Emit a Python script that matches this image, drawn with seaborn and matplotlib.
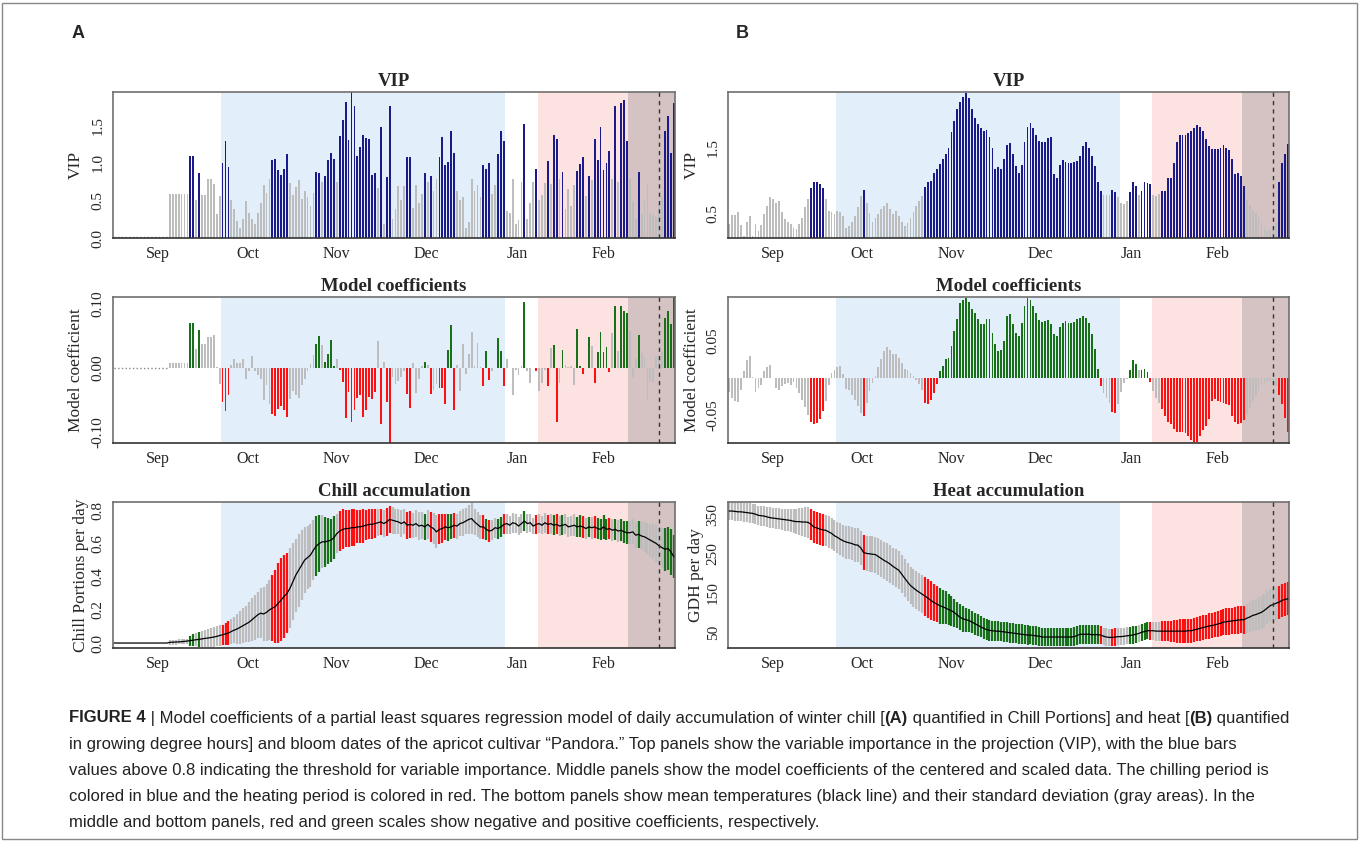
import numpy as np
import pandas as pd
import matplotlib
matplotlib.use('Agg')
import matplotlib.pyplot as plt
import seaborn as sns
from matplotlib.patches import Rectangle

# ---- calendar: day 0 = Sep 1, last day = Mar 11 ----
N_DAYS = 192
days = np.arange(N_DAYS)
month_labels = ['Sep', 'Oct', 'Nov', 'Dec', 'Jan', 'Feb']
month_starts = [0, 30, 61, 91, 122, 153, 181]
chill_period = (36.5, 133.5)
heat_period = (144.5, 175.5)
late_period = (175.5, 191.6)
bloom_day = 186
vip_threshold = 0.8

# ---- panel A: chill (Chill Portions) ----
a_vip = [0.0] * 19 + [
    0.59, 0.59, 0.59, 0.59, 0.59, 0.59, 0.59,
    1.09, 1.09, 0.50, 0.86,
    0.57, 0.57, 0.79, 0.79, 0.72, 0.32, 0.56, 0.99, 1.29, 0.94,
    0.50, 0.38, 0.22, 0.13, 0.25, 0.49, 0.33, 0.25, 0.18, 0.33,
    0.46, 0.71, 0.60, 0.78, 1.03, 1.05, 0.91, 0.84, 0.92, 1.12,
    0.73, 0.57, 0.68, 0.77, 0.52, 0.63, 0.54, 0.42, 0.60, 0.88,
    0.87, 0.75, 0.82, 1.03, 1.13, 1.05, 0.75, 1.35, 1.57, 1.81,
    1.30, 1.94, 1.76, 1.09, 1.21, 1.37, 1.33, 1.31, 0.84, 0.87,
    0.67, 1.48, 0.19, 0.81, 1.76, 0.25, 0.38, 0.69, 0.51, 0.69,
    1.08, 1.07, 0.40,
    0.70, 0.46, 0.58, 0.87, 0.75, 0.82, 0.63, 0.79, 1.08, 1.34,
    0.97, 1.01, 1.42, 1.13, 0.63, 0.51, 0.55, 0.13, 0.21, 0.79,
    0.63, 0.70, 0.55, 0.97, 0.92, 1.00, 0.58, 0.71, 1.11, 1.42,
    1.29, 0.36, 0.33, 0.79, 0.19, 0.24, 0.75, 1.51, 0.25, 0.47,
    0.74, 0.92, 0.50, 0.57, 0.73, 1.02, 0.72, 1.37, 1.32, 0.79,
    0.88, 0.38, 0.65, 0.42, 0.70, 0.89, 0.98, 1.07, 0.56, 0.83,
    0.77, 1.32, 1.04, 1.48, 0.90, 1.00, 1.16, 0.79, 1.76, 0.74,
    1.79, 1.83, 1.29, 0.79, 0.49, 0.25, 0.88, 0.32, 0.50, 0.73,
    0.33, 0.30, 0.28, 0.45, 0.54, 1.42, 1.62, 1.13, 1.80,
]

a_coef = [0.0] * 19 + [
    0.007, 0.007, 0.007, 0.007, 0.007, 0.007, 0.007,
    0.069, 0.069, 0.029, 0.059,
    0.037, 0.037, 0.048, 0.048, 0.051, 0.001, -0.025, -0.054, -0.067, -0.043,
    0.005, 0.013, 0.007, 0.007, 0.014, -0.017, -0.005, 0.018, -0.005, -0.011,
    -0.018, -0.050, -0.027, -0.056, -0.072, -0.075, -0.064, -0.059, -0.066, -0.077,
    -0.048, -0.036, -0.043, -0.047, -0.027, -0.017, -0.005, 0.006, 0.020, 0.037,
    0.049, 0.036, 0.009, 0.021, 0.043, 0.002, 0.014, -0.003, -0.022, -0.078,
    -0.037, -0.084, -0.066, -0.047, -0.043, -0.076, -0.065, -0.045, -0.048, -0.037,
    0.041, -0.088, 0.009, -0.053, -0.117, -0.014, -0.025, -0.021, -0.014, -0.005,
    -0.041, -0.062, 0.008,
    -0.039, -0.017, 0.002, 0.009, 0.004, -0.041, -0.035, -0.026, -0.032, -0.032,
    -0.056, 0.027, 0.066, -0.066, 0.005, -0.036, 0.037, -0.009, 0.021, 0.055,
    0.002, 0.038, 0.001, -0.028, 0.026, -0.019, -0.005, -0.001, 0.046, 0.026,
    -0.029, 0.013, -0.001, -0.042, -0.003, -0.012, 0.003, 0.103, -0.005, -0.024,
    -0.001, -0.005, -0.036, -0.024, -0.004, -0.029, 0.031, 0.036, -0.084, -0.024,
    0.027, 0.004, 0.001, 0.002, -0.027, 0.060, 0.003, -0.009, 0.000, 0.048,
    0.034, -0.023, 0.025, 0.055, 0.025, 0.032, -0.007, 0.054, 0.096, 0.026,
    0.096, 0.089, 0.085, 0.057, -0.014, 0.013, 0.051, 0.023, 0.016, -0.050,
    -0.022, -0.022, 0.018, 0.018, 0.024, 0.077, 0.088, 0.068, 0.112,
]

a_mean = [0.0] * 19 + [
    0.004,
    0.005, 0.006, 0.007, 0.008, 0.010, 0.012, 0.015, 0.017, 0.020, 0.022,
    0.025, 0.028, 0.030, 0.033, 0.036, 0.040, 0.045, 0.050, 0.055, 0.060,
    0.070, 0.078, 0.085, 0.095, 0.105, 0.115, 0.125, 0.140, 0.155, 0.170,
    0.180, 0.175, 0.185, 0.200, 0.210, 0.220, 0.240, 0.260, 0.280, 0.300,
    0.330, 0.370, 0.410, 0.440, 0.470, 0.500, 0.515, 0.530, 0.560, 0.585,
    0.600, 0.610, 0.610, 0.615, 0.620, 0.635, 0.660, 0.675, 0.685, 0.690,
    0.690, 0.695, 0.695, 0.700, 0.700, 0.705, 0.710, 0.715, 0.715, 0.720,
    0.725, 0.730, 0.720, 0.730, 0.745, 0.740, 0.735, 0.730, 0.720, 0.730,
    0.710, 0.715, 0.710, 0.720, 0.705, 0.710, 0.700, 0.715, 0.700, 0.690,
    0.670, 0.685, 0.690, 0.700, 0.695, 0.700, 0.710, 0.705, 0.720, 0.725,
    0.735, 0.745, 0.750, 0.730, 0.715, 0.700, 0.700, 0.685, 0.675, 0.680,
    0.695, 0.690, 0.700, 0.715, 0.720, 0.710, 0.725, 0.720, 0.705, 0.720,
    0.735, 0.720, 0.725, 0.705, 0.715, 0.720, 0.710, 0.725, 0.715, 0.720,
    0.710, 0.715, 0.705, 0.710, 0.715, 0.700, 0.705, 0.710, 0.700, 0.705,
    0.700, 0.690, 0.700, 0.695, 0.700, 0.690, 0.685, 0.700, 0.685, 0.690,
    0.680, 0.685, 0.675, 0.680, 0.670, 0.665, 0.665, 0.670, 0.650, 0.655,
    0.645, 0.640, 0.630, 0.620, 0.610, 0.600, 0.585, 0.575, 0.565, 0.570,
    0.550, 0.520,
]

a_sd = [0.0] * 19 + [
    0.015,
    0.015, 0.015, 0.015, 0.015, 0.015, 0.015, 0.030, 0.035, 0.040, 0.045,
    0.050, 0.050, 0.055, 0.055, 0.060, 0.060, 0.065, 0.060, 0.065, 0.070,
    0.075, 0.080, 0.090, 0.100, 0.105, 0.110, 0.120, 0.130, 0.135, 0.140,
    0.150, 0.160, 0.170, 0.180, 0.200, 0.220, 0.240, 0.250, 0.250, 0.240,
    0.240, 0.230, 0.220, 0.220, 0.210, 0.200, 0.190, 0.190, 0.180, 0.180,
    0.170, 0.160, 0.150, 0.140, 0.130, 0.130, 0.120, 0.120, 0.120, 0.110,
    0.110, 0.110, 0.110, 0.100, 0.100, 0.100, 0.090, 0.090, 0.090, 0.085,
    0.080, 0.080, 0.080, 0.085, 0.080, 0.080, 0.075, 0.075, 0.080, 0.075,
    0.080, 0.080, 0.075, 0.080, 0.085, 0.080, 0.080, 0.085, 0.090, 0.095,
    0.100, 0.090, 0.085, 0.080, 0.080, 0.075, 0.075, 0.075, 0.075, 0.080,
    0.080, 0.085, 0.095, 0.080, 0.075, 0.070, 0.070, 0.065, 0.065, 0.060,
    0.060, 0.060, 0.060, 0.060, 0.060, 0.055, 0.060, 0.055, 0.055, 0.055,
    0.060, 0.055, 0.055, 0.050, 0.055, 0.055, 0.055, 0.060, 0.055, 0.060,
    0.060, 0.060, 0.060, 0.060, 0.060, 0.060, 0.060, 0.065, 0.060, 0.065,
    0.065, 0.065, 0.060, 0.065, 0.065, 0.065, 0.065, 0.070, 0.065, 0.065,
    0.065, 0.065, 0.065, 0.065, 0.065, 0.070, 0.070, 0.075, 0.080, 0.080,
    0.085, 0.090, 0.095, 0.100, 0.105, 0.110, 0.110, 0.120, 0.130, 0.130,
    0.140, 0.130,
]

# ---- panel B: heat (GDH) ----
b_vip = [
    0.33, 0.47, 0.47, 0.51, 0.32, 0.15, 0.36, 0.46, 0.15, 0.34,
    0.23, 0.32, 0.48, 0.61, 0.75, 0.72, 0.66, 0.69, 0.52, 0.41,
    0.36, 0.33, 0.28, 0.26, 0.34, 0.42, 0.59, 0.72, 0.89, 0.97,
    0.97, 0.94, 0.88, 0.71, 0.53, 0.51, 0.48, 0.53, 0.52, 0.46,
    0.28, 0.31, 0.37, 0.45, 0.59, 0.76, 0.85, 0.65, 0.50, 0.37,
    0.43, 0.48, 0.56, 0.61, 0.65, 0.57, 0.48, 0.54, 0.46, 0.36,
    0.30, 0.35, 0.43, 0.52, 0.61, 0.69, 0.76, 0.90, 0.98, 0.99,
    1.11, 1.18, 1.25, 1.33, 1.41, 1.50, 1.74, 1.90, 2.09, 2.20,
    2.28, 2.34, 2.26, 2.09, 1.96, 1.86, 1.80, 1.75, 1.77, 1.67,
    1.50, 1.17, 1.21, 1.17, 1.32, 1.54, 1.57, 1.40, 1.22, 1.11,
    1.23, 1.59, 1.82, 1.87, 1.80, 1.70, 1.60, 1.59, 1.58, 1.64,
    1.67, 1.09, 1.04, 1.23, 1.31, 1.28, 1.27, 1.27, 1.28, 1.30,
    1.37, 1.53, 1.59, 1.50, 1.37, 1.22, 0.98, 0.84, 0.77, 0.77,
    0.77, 0.86, 0.83, 0.74, 0.66, 0.64, 0.69, 0.83, 0.98, 0.91,
    0.78, 0.84, 0.97, 0.96, 0.95, 0.78, 0.76, 0.79, 0.84, 0.84,
    1.03, 1.03, 1.26, 1.58, 1.70, 1.70, 1.70, 1.72, 1.76, 1.80,
    1.84, 1.82, 1.76, 1.63, 1.52, 1.48, 1.48, 1.48, 1.50, 1.54,
    1.50, 1.46, 1.32, 1.09, 1.12, 1.07, 0.92, 0.70, 0.62, 0.55,
    0.50, 0.45, 0.37, 0.28, 0.22, 0.24, 0.30, 0.36, 0.98, 1.27,
    1.40, 1.55,
]

b_coef = [
    -0.019, -0.027, -0.031, -0.033, -0.017, 0.009, 0.024, 0.029, 0.001, -0.019,
    -0.014, -0.010, 0.009, 0.015, 0.017, 0.000, -0.014, -0.016, -0.011, -0.009,
    -0.007, -0.010, -0.006, -0.014, -0.020, -0.030, -0.039, -0.050, -0.060, -0.063,
    -0.061, -0.055, -0.045, -0.032, -0.010, 0.007, 0.011, 0.015, 0.016, 0.005,
    -0.015, -0.017, -0.023, -0.030, -0.038, -0.047, -0.052, -0.034, -0.018, -0.007,
    0.003, 0.014, 0.025, 0.036, 0.042, 0.038, 0.032, 0.032, 0.027, 0.020,
    0.012, 0.011, 0.007, 0.002, -0.003, -0.009, -0.017, -0.034, -0.036, -0.030,
    -0.021, -0.009, 0.009, 0.016, 0.025, 0.027, 0.043, 0.063, 0.079, 0.101,
    0.105, 0.108, 0.102, 0.093, 0.088, 0.079, 0.073, 0.073, 0.079, 0.079,
    0.061, 0.045, 0.036, 0.037, 0.050, 0.083, 0.086, 0.072, 0.061, 0.056,
    0.074, 0.097, 0.107, 0.105, 0.097, 0.088, 0.078, 0.075, 0.077, 0.078,
    0.072, 0.059, 0.057, 0.068, 0.074, 0.077, 0.074, 0.074, 0.075, 0.079,
    0.080, 0.083, 0.080, 0.074, 0.059, 0.039, 0.012, -0.011, -0.020, -0.027,
    -0.034, -0.046, -0.048, -0.036, -0.019, -0.007, -0.001, 0.011, 0.024, 0.018,
    0.011, 0.011, 0.012, 0.008, -0.006, -0.018, -0.027, -0.034, -0.042, -0.052,
    -0.059, -0.062, -0.069, -0.073, -0.073, -0.073, -0.074, -0.079, -0.084, -0.087,
    -0.086, -0.078, -0.070, -0.065, -0.056, -0.032, -0.029, -0.032, -0.033, -0.034,
    -0.035, -0.037, -0.052, -0.059, -0.062, -0.061, -0.057, -0.050, -0.041, -0.032,
    -0.024, -0.016, -0.009, -0.007, -0.005, -0.005, -0.007, -0.011, -0.023, -0.036,
    -0.054, -0.073,
]

b_mean = [
    359, 359, 358, 357, 357, 356, 355, 354, 353, 351,
    348, 347, 346, 344, 342, 341, 340, 339, 338, 337,
    336, 335, 333, 332, 332, 331, 331, 330, 325, 318,
    316, 313, 311, 310, 306, 302, 296, 292, 287, 283,
    280, 278, 276, 273, 272, 265, 253, 251, 250, 249,
    248, 243, 238, 233, 229, 224, 218, 213, 208, 198,
    188, 178, 169, 163, 157, 152, 147, 142, 137, 131,
    126, 122, 118, 115, 112, 108, 105, 100, 94, 88,
    84, 82, 80, 76, 72, 68, 64, 60, 57, 55,
    54, 53, 53, 52, 51, 50, 49, 48, 47, 46,
    45, 44, 43, 43, 42, 41, 40, 38, 38, 38,
    38, 38, 38, 38, 38, 38, 38, 38, 39, 42,
    45, 45, 45, 45, 44, 44, 44, 43, 40, 38,
    37, 37, 38, 39, 39, 40, 41, 42, 43, 45,
    47, 50, 52, 54, 54, 54, 53, 53, 53, 53,
    53, 53, 53, 53, 53, 53, 53, 54, 54, 56,
    58, 60, 62, 64, 66, 67, 69, 71, 73, 76,
    77, 78, 79, 80, 81, 82, 82, 86, 89, 93,
    95, 98, 101, 106, 112, 118, 121, 124, 127, 131,
    134, 135,
]

b_sd = [
    24, 24, 24, 24, 24, 24, 25, 25, 25, 25,
    25, 25, 25, 26, 26, 26, 26, 27, 27, 28,
    28, 29, 30, 32, 34, 36, 38, 40, 40, 40,
    40, 40, 40, 40, 40, 40, 40, 40, 41, 41,
    42, 42, 43, 43, 44, 44, 45, 45, 46, 46,
    46, 47, 47, 47, 48, 48, 48, 48, 48, 48,
    48, 48, 48, 48, 48, 48, 48, 50, 50, 50,
    48, 47, 46, 44, 42, 40, 38, 36, 34, 33,
    32, 31, 30, 29, 28, 28, 27, 27, 26, 26,
    26, 26, 25, 25, 25, 25, 25, 25, 25, 25,
    25, 25, 25, 24, 24, 24, 24, 24, 24, 24,
    24, 24, 24, 24, 24, 24, 24, 24, 24, 24,
    24, 24, 24, 24, 24, 24, 24, 24, 22, 22,
    22, 22, 22, 22, 22, 22, 22, 22, 22, 22,
    22, 22, 22, 22, 23, 23, 24, 24, 25, 25,
    26, 27, 28, 29, 30, 30, 30, 31, 31, 31,
    31, 31, 31, 31, 32, 32, 32, 33, 33, 33,
    34, 34, 34, 35, 35, 35, 36, 37, 38, 39,
    40, 41, 42, 42, 42, 42, 42, 42, 42, 42,
    42, 42,
]

for name, arr in [('a_vip', a_vip), ('a_coef', a_coef), ('a_mean', a_mean), ('a_sd', a_sd),
                  ('b_vip', b_vip), ('b_coef', b_coef), ('b_mean', b_mean), ('b_sd', b_sd)]:
    assert len(arr) == N_DAYS, f'{name}: {len(arr)}'

NAVY = '#1a1a8a'
GRAY = '#bdbdbd'
RED = '#ff1010'
GREEN = '#187018'
BLUE_BG = '#e3eefb'
RED_BG = '#fde2e2'
LATE_BG = '#d5c3c3'
SERIF = ['Liberation Serif', 'DejaVu Serif']

sns.set_style('white')
plt.rcParams['font.family'] = SERIF

W, H = 1360, 841
fig = plt.figure(figsize=(W / 100, H / 100), dpi=100)


def px_rect(l, t, r, b):
    return [l / W, 1 - b / H, (r - l) / W, (b - t) / H]


def vip_colors(vip):
    return [NAVY if v > vip_threshold else GRAY for v in vip]


def coef_colors(vip, coef):
    return [(GREEN if c > 0 else RED) if v > vip_threshold else GRAY
            for v, c in zip(vip, coef)]


def shade(ax):
    ax.axvspan(*chill_period, color=BLUE_BG, lw=0, zorder=0)
    ax.axvspan(*heat_period, color=RED_BG, lw=0, zorder=0)
    ax.axvspan(*late_period, color=LATE_BG, lw=0, zorder=0)
    ax.axvline(bloom_day, color='#333333', ls=(0, (3, 3)), lw=1, zorder=5)


def bars(ax, values, colors):
    df = pd.DataFrame({'day': days, 'val': values, 'col': colors})
    sns.barplot(data=df, x='day', y='val', hue='col',
                palette={c: c for c in set(colors)}, native_scale=True,
                width=0.62, dodge=False, errorbar=None, legend=False,
                saturation=1, linewidth=0, ax=ax)


def style(ax, title, ylabel, ylim, yticks, ylabels, label_x):
    ax.set_xlim(-0.4, N_DAYS - 0.6)
    ax.set_ylim(*ylim)
    ax.set_title(title, fontsize=13.5, fontweight='bold', pad=4, family=SERIF)
    ax.set_xlabel('')
    ax.set_ylabel(ylabel, fontsize=12.5, family=SERIF)
    ax.yaxis.set_label_coords(label_x, 0.5)
    ax.set_xticks(month_starts[1:])
    ax.set_xticklabels([])
    mids = [(month_starts[i] + month_starts[i + 1]) / 2 for i in range(6)]
    ax.set_xticks(mids, minor=True)
    ax.set_xticklabels(month_labels, minor=True, fontsize=11.5, family=SERIF)
    ax.tick_params(axis='x', which='minor', length=0, pad=6)
    ax.tick_params(axis='x', which='major', length=4, direction='out', color='#444444')
    ax.set_yticks(yticks)
    ax.set_yticklabels(ylabels, fontsize=11, family=SERIF)
    ax.tick_params(axis='y', length=4, direction='out', color='#444444', pad=2)
    for lab in ax.get_yticklabels():
        lab.set_rotation(90)
        lab.set_va('center')
    for sp in ax.spines.values():
        sp.set_color('#707070')
        sp.set_linewidth(1.2)
    ax.spines['bottom'].set_color('#333333')


rows = [(92, 238), (297, 443), (502, 648)]
cols = {'A': (113, 675), 'B': (728, 1289)}

panels = {
    'A': dict(vip=a_vip, coef=a_coef, mean=a_mean, sd=a_sd,
              acc_title='Chill accumulation', acc_label='Chill Portions per day',
              vip_lim=(0, 1.94), vip_ticks=[0, 0.5, 1.0, 1.5],
              vip_labels=['0.0', '0.5', '1.0', '1.5'],
              coef_lim=(-0.117, 0.110), coef_ticks=[-0.10, 0.0, 0.10],
              coef_labels=['-0.10', '0.00', '0.10'],
              acc_lim=(-0.03, 0.85), acc_ticks=[0, 0.2, 0.4, 0.6, 0.8],
              acc_labels=['0.0', '0.2', '0.4', '0.6', '0.8'],
              lx=(-0.052, -0.052, -0.043)),
    'B': dict(vip=b_vip, coef=b_coef, mean=b_mean, sd=b_sd,
              acc_title='Heat accumulation', acc_label='GDH per day',
              vip_lim=(0.12, 2.35), vip_ticks=[0.5, 1.0, 1.5, 2.0],
              vip_labels=['0.5', '', '1.5', ''],
              coef_lim=(-0.088, 0.109), coef_ticks=[-0.05, 0.0, 0.05, 0.10],
              coef_labels=['-0.05', '', '0.05', ''],
              acc_lim=(10, 382), acc_ticks=[50, 100, 150, 200, 250, 300, 350],
              acc_labels=['50', '', '150', '', '250', '', '350'],
              lx=(-0.050, -0.050, -0.043)),
}

for key, p in panels.items():
    l, r = cols[key]
    vip = np.array(p['vip'])
    coef = np.array(p['coef'])
    mean = np.array(p['mean'], dtype=float)
    sd = np.array(p['sd'], dtype=float)
    ccol = coef_colors(vip, coef)

    # VIP
    ax = fig.add_axes(px_rect(l, rows[0][0], r, rows[0][1]))
    shade(ax)
    bars(ax, vip, vip_colors(vip))
    zero = vip == 0
    if zero.any():
        ax.plot(days[zero], vip[zero] + 0.01, ls=':', color='#888888', lw=1)
    style(ax, 'VIP', 'VIP', p['vip_lim'], p['vip_ticks'], p['vip_labels'], p['lx'][0])

    # model coefficients
    ax = fig.add_axes(px_rect(l, rows[1][0], r, rows[1][1]))
    shade(ax)
    bars(ax, coef, ccol)
    zero = vip == 0
    if zero.any():
        ax.plot(days[zero], coef[zero], ls=':', color='#888888', lw=1)
    style(ax, 'Model coefficients', 'Model coefficient', p['coef_lim'],
          p['coef_ticks'], p['coef_labels'], p['lx'][1])

    # accumulation: mean line with sd bars
    ax = fig.add_axes(px_rect(l, rows[2][0], r, rows[2][1]))
    shade(ax)
    has_sd = sd > 0
    ax.vlines(days[has_sd], (mean - sd)[has_sd], (mean + sd)[has_sd],
              colors=np.array(ccol)[has_sd], lw=1.6, zorder=2)
    sns.lineplot(x=days, y=mean, color='black', lw=0.9, ax=ax, zorder=3)
    style(ax, p['acc_title'], p['acc_label'], p['acc_lim'],
          p['acc_ticks'], p['acc_labels'], p['lx'][2])

fig.text(72 / W, 1 - 33 / H, 'A', fontsize=13, fontweight='bold',
         family='Liberation Sans', ha='left', va='center')
fig.text(736 / W, 1 - 33 / H, 'B', fontsize=13, fontweight='bold',
         family='Liberation Sans', ha='left', va='center')

# ---- caption ----
caption = [
    [('FIGURE 4', True), (' | Model coefficients of a partial least squares regression model of daily accumulation of winter chill [', False),
     ('(A)', True), (' quantified in Chill Portions] and heat [', False), ('(B)', True), (' quantified', False)],
    [('in growing degree hours] and bloom dates of the apricot cultivar \u201cPandora.\u201d Top panels show the variable importance in the projection (VIP), with the blue bars', False)],
    [('values above 0.8 indicating the threshold for variable importance. Middle panels show the model coefficients of the centered and scaled data. The chilling period is', False)],
    [('colored in blue and the heating period is colored in red. The bottom panels show mean temperatures (black line) and their standard deviation (gray areas). In the', False)],
    [('middle and bottom panels, red and green scales show negative and positive coefficients, respectively.', False)],
]
renderer = fig.canvas.get_renderer()
CAP_FONT = ['Liberation Sans', 'DejaVu Sans']


def line_width(parts, size):
    total = 0
    for txt, bold in parts:
        t = fig.text(0, 0, txt, fontsize=size, fontweight='bold' if bold else 'normal', family=CAP_FONT)
        total += t.get_window_extent(renderer).width
        t.remove()
    return total


cap_size = 10 * 1221 / line_width(caption[0], 10)
line_y = [718, 745, 771, 797, 823]
for parts, y in zip(caption, line_y):
    x = 69
    for txt, bold in parts:
        t = fig.text(x / W, 1 - y / H, txt, fontsize=cap_size,
                     fontweight='bold' if bold else 'normal', family=CAP_FONT,
                     color='#222222', ha='left', va='center')
        x += t.get_window_extent(renderer).width

fig.patches.append(Rectangle((2 / W, 2 / H), 1355 / W, 836 / H, transform=fig.transFigure,
                             fill=False, edgecolor='#888888', lw=1))

fig.savefig('out.png', dpi=100)
